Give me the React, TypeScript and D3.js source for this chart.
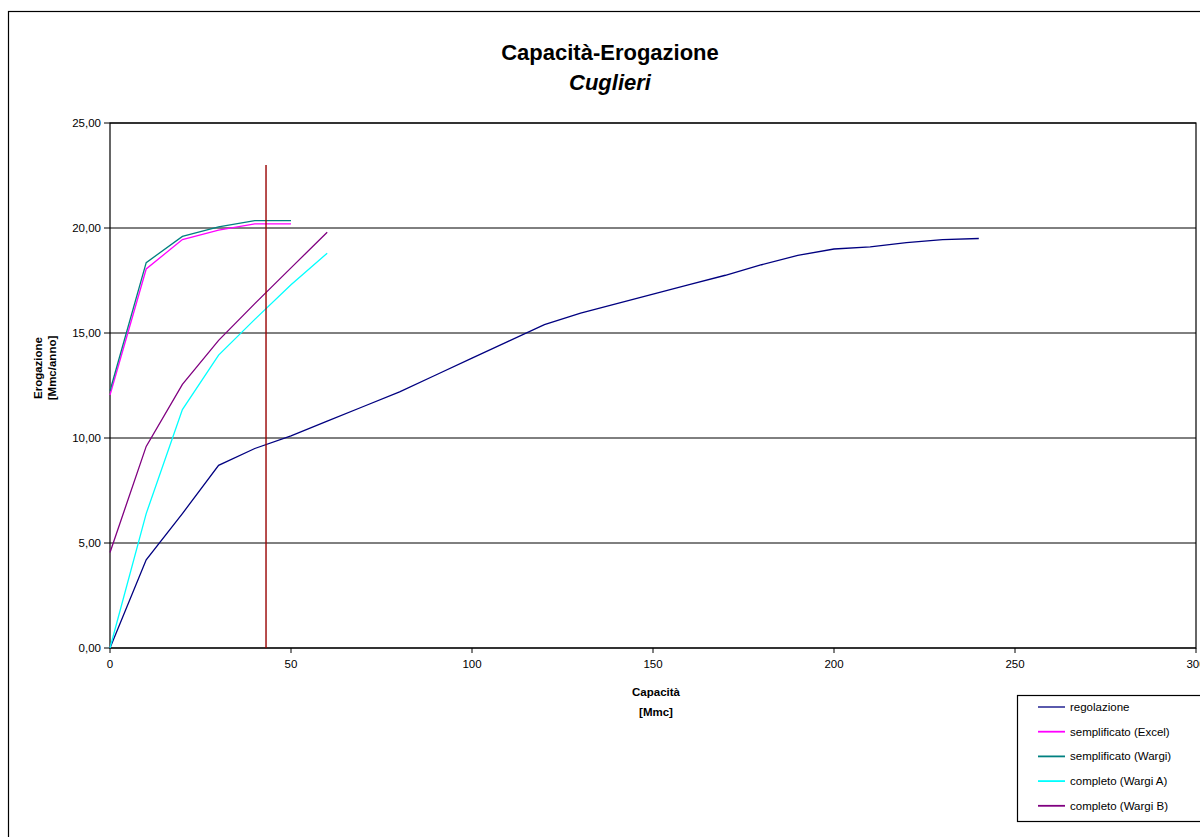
import React from "react";
import * as d3 from "d3";

const capacita = [0, 10, 20, 30, 40, 50, 60, 70, 80, 90, 100, 110, 120, 130, 140, 150, 160, 170, 180, 190, 200, 210, 220, 230, 240];
const regolazione = [0, 4.2, 6.4, 8.7, 9.5, 10.1, 10.8, 11.5, 12.2, 13.0, 13.8, 14.6, 15.4, 15.95, 16.4, 16.85, 17.3, 17.75, 18.25, 18.7, 19.0, 19.1, 19.3, 19.45, 19.5];

const capacitaBreve = [0, 10, 20, 30, 40, 50];
const semplExcel = [12.05, 18.05, 19.45, 19.9, 20.2, 20.2];
const semplWargi = [12.25, 18.35, 19.6, 20.05, 20.35, 20.35];

const capacitaMedia = [0, 10, 20, 30, 40, 50, 60];
const completoA = [0, 6.4, 11.35, 13.95, 15.65, 17.3, 18.8];
const completoB = [4.55, 9.6, 12.55, 14.65, 16.4, 18.1, 19.8];

const marcatoreX = [43.1, 43.1];
const marcatoreY = [0, 23];

const xTicks = [0, 50, 100, 150, 200, 250, 300];
const yTicks = [0, 5, 10, 15, 20, 25];

const seriesNames = ["regolazione", "semplificato (Excel)", "semplificato (Wargi)", "completo (Wargi A)", "completo (Wargi B)"];
const seriesColors = ["#000080", "#FF00FF", "#008080", "#00FFFF", "#800080"];

const FONT = "'Liberation Sans', Arial, sans-serif";

export default function App() {
  const W = 1200;
  const H = 837;
  const left = 110, right = 1196, top = 123, bottom = 648;
  const x = d3.scaleLinear().domain([0, 300]).range([left, right]);
  const y = d3.scaleLinear().domain([0, 25]).range([bottom, top]);

  const mk = (xs: number[], ys: number[]) =>
    d3.line<number>().x((_, i) => x(xs[i])).y((d) => y(d))(ys) || "";

  const series = [
    { xs: capacita, ys: regolazione },
    { xs: capacitaBreve, ys: semplExcel },
    { xs: capacitaBreve, ys: semplWargi },
    { xs: capacitaMedia, ys: completoA },
    { xs: capacitaMedia, ys: completoB },
  ];

  const fmt = (v: number) => v.toFixed(2).replace(".", ",");

  return (
    <svg width={W} height={H} style={{ position: "absolute", left: 0, top: 0, background: "#fff" }} fontFamily={FONT}>
      <rect x={0} y={0} width={W} height={H} fill="#fff" />
      {/* outer chart border */}
      <rect x={8.5} y={11.5} width={1300} height={900} fill="none" stroke="#000" strokeWidth={1.2} />

      {/* title */}
      <text x={610} y={60} textAnchor="middle" fontSize={22} fontWeight="bold">Capacità-Erogazione</text>
      <text x={610} y={90} textAnchor="middle" fontSize={22} fontWeight="bold" fontStyle="italic">Cuglieri</text>

      {/* gridlines */}
      {yTicks.map((t) => (
        <line key={"g" + t} x1={left} x2={right} y1={y(t)} y2={y(t)} stroke="#000" strokeWidth={1} />
      ))}
      {/* plot border */}
      <rect x={left} y={top} width={right - left} height={bottom - top} fill="none" stroke="#000" strokeWidth={1.2} />

      {/* y ticks */}
      {yTicks.map((t) => (
        <g key={"yt" + t}>
          <line x1={left - 6} x2={left} y1={y(t)} y2={y(t)} stroke="#000" strokeWidth={1} />
          <text x={left - 9} y={y(t) + 4} textAnchor="end" fontSize={11.5}>{fmt(t)}</text>
        </g>
      ))}
      {/* x ticks */}
      {xTicks.map((t) => (
        <g key={"xt" + t}>
          <line x1={x(t)} x2={x(t)} y1={bottom} y2={bottom + 5} stroke="#000" strokeWidth={1} />
          <text x={x(t)} y={bottom + 20} textAnchor="middle" fontSize={11.5}>{t}</text>
        </g>
      ))}

      {/* axis titles */}
      <text x={656} y={696} textAnchor="middle" fontSize={11.5} fontWeight="bold">Capacità</text>
      <text x={656} y={716} textAnchor="middle" fontSize={11.5} fontWeight="bold">[Mmc]</text>
      <text transform="translate(42,368) rotate(-90)" textAnchor="middle" fontSize={11.5} fontWeight="bold">Erogazione</text>
      <text transform="translate(56,368) rotate(-90)" textAnchor="middle" fontSize={11.5} fontWeight="bold">[Mmc/anno]</text>

      {/* series */}
      {series.map((s, i) => (
        <path key={"s" + i} d={mk(s.xs, s.ys)} fill="none" stroke={seriesColors[i]} strokeWidth={1.3} />
      ))}

      {/* marker */}
      <path d={mk(marcatoreX, marcatoreY)} fill="none" stroke="#990000" strokeWidth={1.4} />

      {/* legend */}
      <rect x={1017.5} y={695.5} width={250} height={126} fill="#fff" stroke="#000" strokeWidth={1.2} />
      {seriesNames.map((n, i) => {
        const yy = 707 + i * 24.7;
        return (
          <g key={"l" + i}>
            <line x1={1038} x2={1065} y1={yy} y2={yy} stroke={seriesColors[i]} strokeWidth={i === 0 ? 1.3 : 1.8} />
            <text x={1070} y={yy + 4} fontSize={11.5}>{n}</text>
          </g>
        );
      })}
    </svg>
  );
}
